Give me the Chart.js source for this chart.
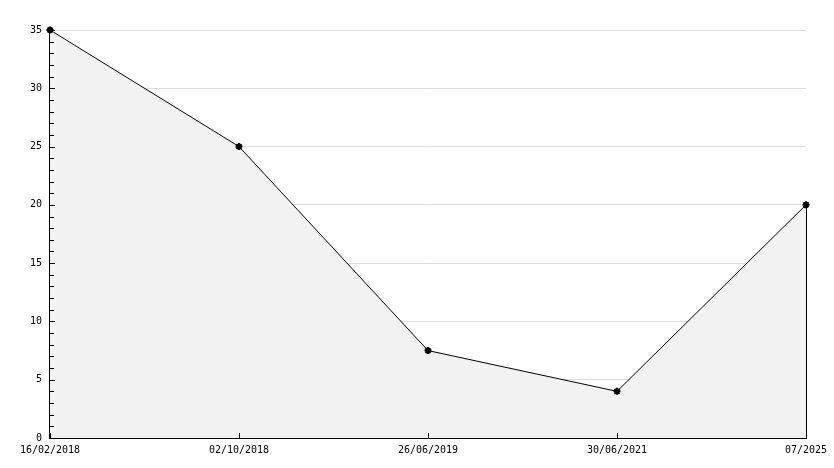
<!DOCTYPE html>
<html>
<head>
<meta charset="utf-8">
<script src="https://cdn.jsdelivr.net/npm/chart.js@4/dist/chart.umd.min.js"></script>
<style>
  html, body { margin: 0; padding: 0; background: #fff; }
  #wrap { width: 834px; height: 468px; }
</style>
</head>
<body>
<div id="wrap"><canvas id="myChart" width="834" height="468"></canvas></div>
<script>
const labels = ["16/02/2018", "02/10/2018", "26/06/2019", "30/06/2021", "07/2025"];
const values = [35, 25, 7.5, 4, 20];
const yTicks = [0, 5, 10, 15, 20, 25, 30, 35];

// inner tick marks and the closing edge of the filled area
const axisMarks = {
  id: "axisMarks",
  afterDatasetsDraw(chart) {
    const ctx = chart.ctx;
    const x = chart.scales.x, y = chart.scales.y;
    const area = chart.chartArea;
    ctx.save();
    ctx.strokeStyle = "#000";
    ctx.lineWidth = 1;
    ctx.beginPath();
    // y minor ticks every 1, major every 5
    for (let v = 0; v <= 35; v++) {
      const py = Math.round(y.getPixelForValue(v)) + 0.5;
      const len = v % 5 === 0 ? 5 : 4;
      ctx.moveTo(area.left, py);
      ctx.lineTo(area.left + len, py);
    }
    // x ticks
    labels.forEach((l, i) => {
      const px = Math.round(x.getPixelForValue(i)) + 0.5;
      ctx.moveTo(px, area.bottom);
      ctx.lineTo(px, area.bottom - 5);
    });
    // right edge of fill
    const last = values.length - 1;
    const lx = Math.round(x.getPixelForValue(last)) + 0.5;
    ctx.moveTo(lx, y.getPixelForValue(values[last]));
    ctx.lineTo(lx, y.getPixelForValue(0));
    ctx.stroke();
    ctx.restore();
  }
};

const ctx = document.getElementById("myChart").getContext("2d");
new Chart(ctx, {
  type: "line",
  data: {
    labels: labels,
    datasets: [{
      data: values,
      borderColor: "#000",
      borderWidth: 1,
      backgroundColor: "#f2f2f2",
      fill: "origin",
      clip: false,
      tension: 0,
      pointStyle: "star",
      pointRadius: 3.5,
      pointBorderWidth: 2,
      pointBorderColor: "#000",
      pointBackgroundColor: "#000"
    }]
  },
  options: {
    responsive: false,
    animation: false,
    events: [],
    layout: { padding: { top: 30, right: 28, left: 0, bottom: 0 } },
    plugins: { legend: { display: false }, tooltip: { enabled: false } },
    scales: {
      x: {
        type: "category",
        offset: false,
        grid: { display: false, drawTicks: false },
        border: { display: true, color: "#000", width: 1 },
        ticks: {
          color: "#000",
          font: { family: "DejaVu Sans Mono", size: 10 },
          padding: 6,
          maxRotation: 0,
          autoSkip: false
        },
        afterFit(scale) { scale.height = 30; }
      },
      y: {
        min: 0,
        max: 35,
        afterBuildTicks(scale) { scale.ticks = yTicks.map(v => ({ value: v })); },
        grid: { color: "#dcdcdc", drawTicks: false, lineWidth: 1 },
        border: { display: true, color: "#000", width: 1.5 },
        ticks: {
          color: "#000",
          font: { family: "DejaVu Sans Mono", size: 10 },
          padding: 8
        },
        afterFit(scale) { scale.width = 50; }
      }
    }
  },
  plugins: [axisMarks]
});
</script>
</body>
</html>
